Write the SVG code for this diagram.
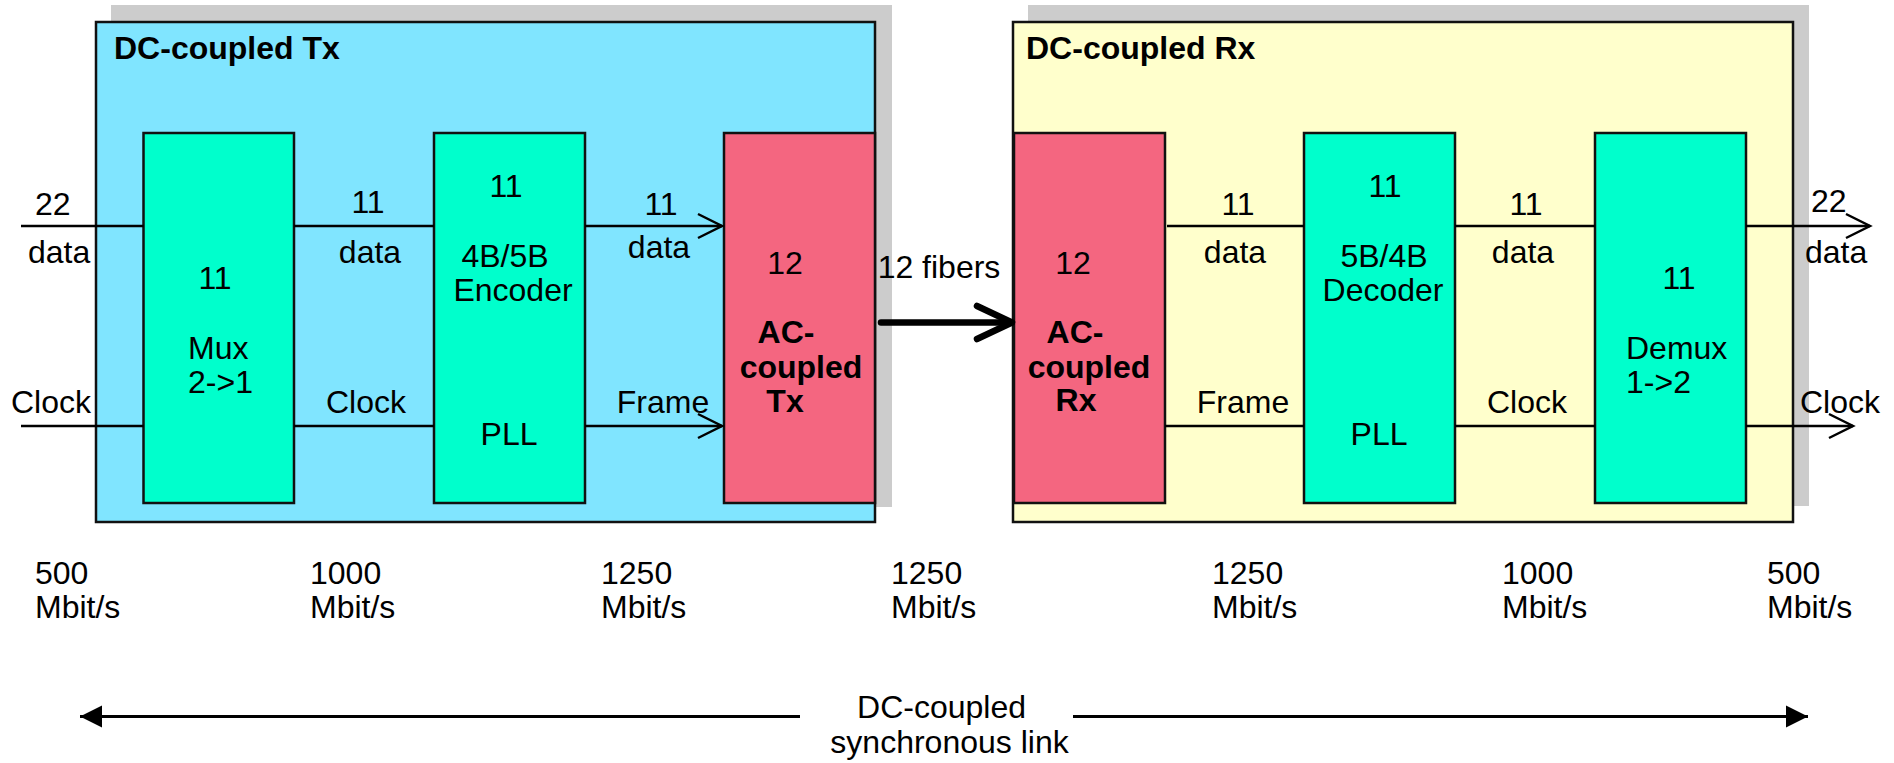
<svg xmlns="http://www.w3.org/2000/svg" width="1894" height="763" viewBox="0 0 1894 763">
  <defs>
    <style>
      .t { font-family: "Liberation Sans", Arial, sans-serif; font-size: 32px; fill: #000; }
      .b { font-weight: bold; }
      .m { text-anchor: middle; }
      .shadow { fill: #cccccc; stroke: none; }
      .box { stroke: #111; stroke-width: 2.5; }
      .tx { fill: #80e5ff; }
      .rx { fill: #ffffcc; }
      .blk { fill: #00ffcc; }
      .ac { fill: #f46680; }
      .wire { stroke: #000; stroke-width: 2.5; fill: none; }
      .link { stroke: #000; stroke-width: 3; fill: none; }
    </style>
    <!-- open chevron head for signal wires -->
    <marker id="chev" markerUnits="userSpaceOnUse" viewBox="-28 -16 32 32" refX="0" refY="0" markerWidth="32" markerHeight="32" orient="auto" overflow="visible">
      <path d="M-24,-12 L0,0 L-24,12" fill="none" stroke="#000" stroke-width="2.5"/>
    </marker>
    <!-- heavy chevron for the fiber bundle -->
    <marker id="bigchev" markerUnits="userSpaceOnUse" viewBox="-40 -22 46 44" refX="0" refY="0" markerWidth="46" markerHeight="44" orient="auto" overflow="visible">
      <path d="M-32,-15.5 L0,0 L-32,15.5" fill="none" stroke="#000" stroke-width="6.5" stroke-linecap="round" stroke-linejoin="round"/>
    </marker>
    <!-- filled head for the span arrow -->
    <marker id="tri" markerUnits="userSpaceOnUse" viewBox="-24 -12 26 24" refX="0" refY="0" markerWidth="26" markerHeight="24" orient="auto-start-reverse" overflow="visible">
      <path d="M-22,-11 L0,0 L-22,11 Z" fill="#000"/>
    </marker>
  </defs>

  <rect width="1894" height="763" fill="#ffffff"/>

  <!-- transmitter frame -->
  <g id="tx-frame">
    <rect class="shadow" x="111" y="5" width="781" height="502"/>
    <rect class="box tx" x="96" y="22" width="779" height="500"/>
    <text class="t b" x="114" y="59">DC-coupled Tx</text>
  </g>

  <!-- receiver frame -->
  <g id="rx-frame">
    <rect class="shadow" x="1028" y="5" width="781" height="501"/>
    <rect class="box rx" x="1013" y="22" width="780" height="500"/>
    <text class="t b" x="1026" y="59">DC-coupled Rx</text>
  </g>

  <g id="mux">
    <rect class="box blk" x="143.5" y="133" width="150.5" height="370"/>
    <text class="t m" x="215" y="289">11</text>
    <text class="t" x="188" y="359">Mux</text>
    <text class="t" x="188" y="393">2-&gt;1</text>
  </g>

  <g id="encoder">
    <rect class="box blk" x="434" y="133" width="151" height="370"/>
    <text class="t m" x="506" y="197">11</text>
    <text class="t m" x="505" y="267">4B/5B</text>
    <text class="t m" x="513" y="301">Encoder</text>
    <text class="t m" x="509" y="445">PLL</text>
  </g>

  <g id="ac-tx">
    <rect class="box ac" x="724" y="133" width="151" height="370"/>
    <text class="t m" x="785" y="274">12</text>
    <text class="t b m" x="786" y="343">AC-</text>
    <text class="t b m" x="801" y="378">coupled</text>
    <text class="t b m" x="785" y="412">Tx</text>
  </g>

  <g id="ac-rx">
    <rect class="box ac" x="1014" y="133" width="151" height="370"/>
    <text class="t m" x="1073" y="274">12</text>
    <text class="t b m" x="1075" y="343">AC-</text>
    <text class="t b m" x="1089" y="378">coupled</text>
    <text class="t b m" x="1076" y="411">Rx</text>
  </g>

  <g id="decoder">
    <rect class="box blk" x="1304" y="133" width="151" height="370"/>
    <text class="t m" x="1385" y="197">11</text>
    <text class="t m" x="1384" y="267">5B/4B</text>
    <text class="t m" x="1383" y="301">Decoder</text>
    <text class="t m" x="1379" y="445">PLL</text>
  </g>

  <g id="demux">
    <rect class="box blk" x="1595" y="133" width="151" height="370"/>
    <text class="t m" x="1679" y="289">11</text>
    <text class="t" x="1626" y="359">Demux</text>
    <text class="t" x="1626" y="393">1-&gt;2</text>
  </g>

  <!-- signal wires and the fiber link -->
  <g id="connectors">
    <line class="wire" x1="21" y1="226" x2="143.5" y2="226"/>
    <line class="wire" x1="21" y1="426" x2="143.5" y2="426"/>
    <line class="wire" x1="294" y1="226" x2="434" y2="226"/>
    <line class="wire" x1="294" y1="426" x2="434" y2="426"/>
    <line class="wire" x1="585" y1="226" x2="722" y2="226" marker-end="url(#chev)"/>
    <line class="wire" x1="585" y1="426" x2="722" y2="426" marker-end="url(#chev)"/>
    <line x1="881" y1="322.5" x2="1008" y2="322.5" stroke="#000" stroke-width="6.5" stroke-linecap="round"/>
    <path d="M977,306 L1012,322.5 L977,339" fill="none" stroke="#000" stroke-width="6.5" stroke-linecap="round" stroke-linejoin="round"/>
    <line class="wire" x1="1167" y1="226" x2="1304" y2="226"/>
    <line class="wire" x1="1165" y1="426" x2="1304" y2="426"/>
    <line class="wire" x1="1455" y1="226" x2="1595" y2="226"/>
    <line class="wire" x1="1455" y1="426" x2="1595" y2="426"/>
    <line class="wire" x1="1746" y1="226" x2="1870" y2="226" marker-end="url(#chev)"/>
    <line class="wire" x1="1746" y1="426" x2="1853" y2="426" marker-end="url(#chev)"/>
    <line class="link" x1="80" y1="716.5" x2="800" y2="716.5" marker-start="url(#tri)"/>
    <line class="link" x1="1073" y1="716.5" x2="1808" y2="716.5" marker-end="url(#tri)"/>
  </g>

  <!-- wire labels -->
  <g id="wire-labels">
    <text class="t" x="35" y="215">22</text>
    <text class="t" x="28" y="263">data</text>
    <text class="t" x="11" y="413">Clock</text>
    <text class="t m" x="368" y="213">11</text>
    <text class="t m" x="370" y="263">data</text>
    <text class="t m" x="366" y="413">Clock</text>
    <text class="t m" x="661" y="215">11</text>
    <text class="t m" x="659" y="258">data</text>
    <text class="t m" x="663" y="413">Frame</text>
    <text class="t m" x="939" y="278">12 fibers</text>
    <text class="t m" x="1238" y="215">11</text>
    <text class="t m" x="1235" y="263">data</text>
    <text class="t m" x="1243" y="413">Frame</text>
    <text class="t m" x="1526" y="215">11</text>
    <text class="t m" x="1523" y="263">data</text>
    <text class="t m" x="1527" y="413">Clock</text>
    <text class="t" x="1811" y="212">22</text>
    <text class="t" x="1805" y="263">data</text>
    <text class="t" x="1800" y="413">Clock</text>
  </g>

  <!-- line rates along the chain -->
  <g id="rates">
    <text class="t" x="35" y="584">500</text>
    <text class="t" x="35" y="618">Mbit/s</text>
    <text class="t" x="310" y="584">1000</text>
    <text class="t" x="310" y="618">Mbit/s</text>
    <text class="t" x="601" y="584">1250</text>
    <text class="t" x="601" y="618">Mbit/s</text>
    <text class="t" x="891" y="584">1250</text>
    <text class="t" x="891" y="618">Mbit/s</text>
    <text class="t" x="1212" y="584">1250</text>
    <text class="t" x="1212" y="618">Mbit/s</text>
    <text class="t" x="1502" y="584">1000</text>
    <text class="t" x="1502" y="618">Mbit/s</text>
    <text class="t" x="1767" y="584">500</text>
    <text class="t" x="1767" y="618">Mbit/s</text>
  </g>

  <g id="span-label">
    <text class="t m" x="941.5" y="718">DC-coupled</text>
    <text class="t m" x="949.5" y="753">synchronous link</text>
  </g>
</svg>
